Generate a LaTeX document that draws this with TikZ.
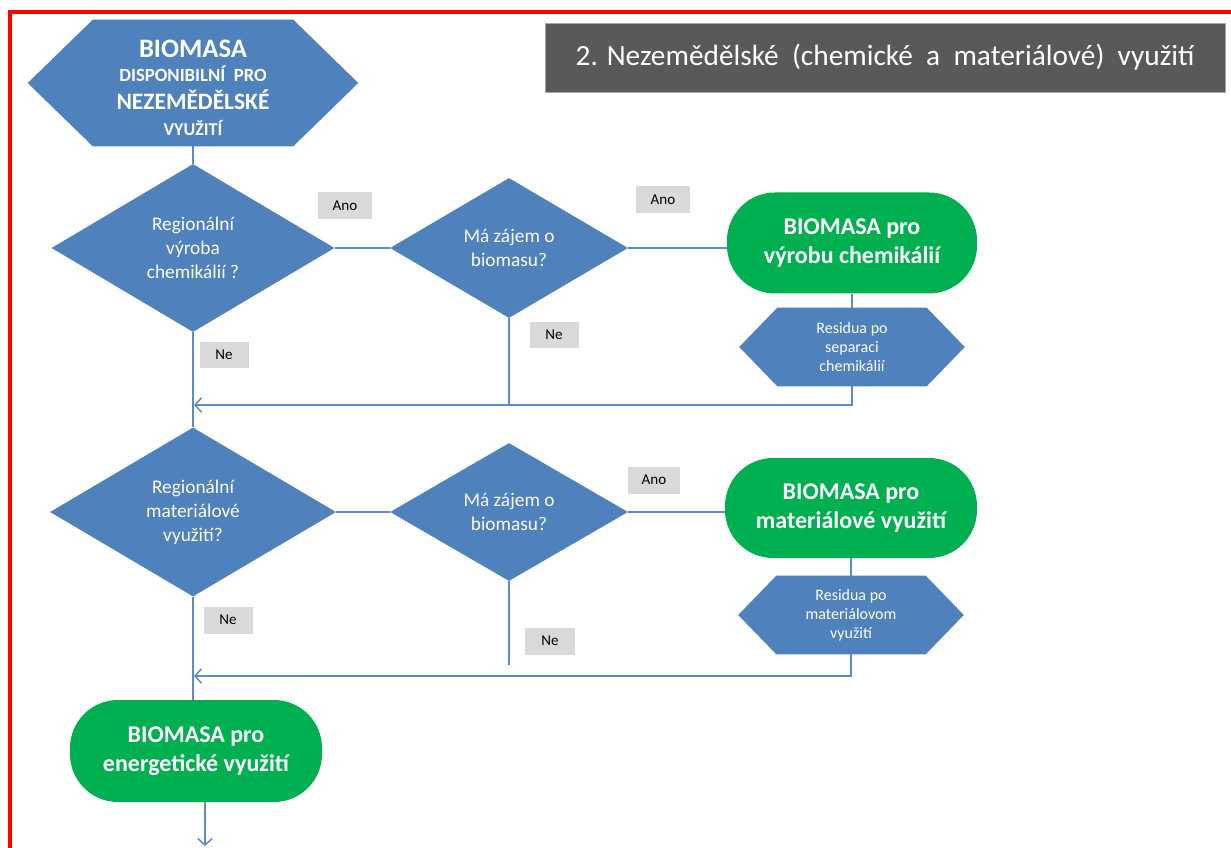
\documentclass[tikz,border=0pt]{standalone}
\usepackage{fontspec}
\setmainfont{Carlito}
\usetikzlibrary{shapes.geometric,arrows.meta,backgrounds}

\definecolor{boxblue}{HTML}{4F81BD}
\definecolor{okgreen}{HTML}{00B050}
\definecolor{flow}{HTML}{5B8BC9}
\definecolor{tag}{HTML}{D9D9D9}
\definecolor{banner}{HTML}{595959}
\definecolor{bannerrim}{HTML}{A6A6A6}
\definecolor{framered}{HTML}{FF0000}

% filled hexagon behind a named node: #1 node, #2 horizontal cut of the corners
\newcommand\hexagonfill[2]{%
  \begin{scope}[on background layer]
    \fill[boxblue] (#1.west) -- ([xshift=#2]#1.north west) -- ([xshift=-#2]#1.north east)
      -- (#1.east) -- ([xshift=-#2]#1.south east) -- ([xshift=#2]#1.south west) -- cycle;
  \end{scope}}

\tikzset{
  decision/.style={diamond, fill=boxblue, text=white, inner sep=0pt, align=center,
    font=\fontsize{14.5}{18}\selectfont},
  outcome/.style={rectangle, rounded corners=36pt, fill=okgreen, text=white, align=center,
    font=\fontsize{18}{21.75}\selectfont\bfseries},
  hexlabel/.style={rectangle, text=white, inner sep=0pt, align=center},
  answer/.style={rectangle, fill=tag, text=black, inner sep=0pt,
    font=\fontsize{11.3}{13}\selectfont},
  flowline/.style={draw=flow, line width=1.3pt},
  flowarrow/.style={flowline, -{Straight Barb[length=5pt,width=11pt,line width=1.1pt]}},
}

\begin{document}
\begin{tikzpicture}[x=0.75pt, y=-0.75pt]
\useasboundingbox (0,0) rectangle (1231,848);

% page frame
\draw[framered, line width=3pt] (9.5,870) -- (9.5,12.5) -- (1250,12.5);

% heading banner
\node[rectangle, fill=banner, draw=bannerrim, line width=0.6pt, text=white,
  minimum width=510pt, minimum height=51.75pt, inner sep=0pt,
  font=\fontsize{22}{26}\selectfont] (title) at (885,57.5)
  {2. Nezemědělské\ \ (chemické\ \ a\ \ materiálové)\ \ využití};

% start
\node[hexlabel, minimum width=247.5pt, minimum height=94.5pt,
  font=\fontsize{14}{19.5}\selectfont\bfseries] (top) at (193,83)
  {\rule{0pt}{20pt}{\fontsize{20}{19.5}\selectfont BIOMASA}\\[-1pt]
   DISPONIBILNÍ\ \ PRO\\[1pt]
   {\fontsize{17.6}{19.5}\selectfont NEZEMĚDĚLSKÉ}\\
   {\fontsize{13.5}{19.5}\selectfont VYUŽITÍ}};
\hexagonfill{top}{48.75pt}

% chemical branch
\node[decision, minimum width=212.25pt, minimum height=126pt] (q1) at (193,248)
  {Regionální\\výroba\\chemikálií ?};
\node[decision, minimum width=178.5pt, minimum height=105pt] (q2) at (509,248)
  {Má zájem o\\biomasu?};
\node[outcome, minimum width=187.5pt, minimum height=75.75pt] (g1) at (852,243)
  {BIOMASA pro\\výrobu chemikálií};
\node[hexlabel, minimum width=168.75pt, minimum height=58.5pt,
  font=\fontsize{12}{14.25}\selectfont] (r1) at (852,347)
  {Residua po\\separaci\\chemikálií};
\hexagonfill{r1}{28.5pt}

% material branch
\node[decision, minimum width=214.5pt, minimum height=126.75pt] (q3) at (193,512)
  {Regionální\\materiálové\\využití?};
\node[decision, minimum width=178.5pt, minimum height=103.5pt] (q4) at (509,512)
  {Má zájem o\\biomasu?};
\node[outcome, minimum width=189pt, minimum height=75pt] (g2) at (851,508)
  {BIOMASA pro\\materiálové využití};
\node[hexlabel, minimum width=168.75pt, minimum height=58.5pt,
  font=\fontsize{12}{14.25}\selectfont] (r2) at (851,615)
  {Residua po\\materiálovom\\využití};
\hexagonfill{r2}{28.5pt}

% energy use
\node[outcome, minimum width=189pt, minimum height=76.5pt] (g3) at (196,751)
  {BIOMASA pro\\energetické využití};

% answer tags
\node[answer, minimum width=40.5pt, minimum height=20.25pt] (a1) at (345,206) {Ano};
\node[answer, minimum width=41pt, minimum height=20.25pt] (a2) at (663,200) {Ano};
\node[answer, minimum width=36.75pt, minimum height=19.5pt] (n1) at (224,355) {Ne};
\node[answer, minimum width=36.75pt, minimum height=19.5pt] (n2) at (554,335) {Ne};
\node[answer, minimum width=39pt, minimum height=20.25pt] (a3) at (654,480) {Ano};
\node[answer, minimum width=36.75pt, minimum height=20.25pt] (n3) at (228,620) {Ne};
\node[answer, minimum width=38pt, minimum height=20.25pt] (n4) at (550,641) {Ne};

% junction points on the main column
\coordinate (j1) at (194,405);
\coordinate (j2) at (194,676);
\coordinate (q4end) at (509,665);
\coordinate (out) at (205,846);

% connectors
\draw[flowline] (top.south) -- (q1.north);
\draw[flowline] (q1.south) -- (q3.north);
\draw[flowline] (q1.east) -- (q2.west);
\draw[flowline] (q2.east) -- (q2.east -| g1.west);
\draw[flowline] (g1.south) -- (r1.north);
\draw[flowline] (q2.south) -- (q2.south |- j1);
\draw[flowarrow] (r1.south) -- (r1.south |- j1) -- (j1);

\draw[flowline] (q3.south) -- (q3.south |- g3.north);
\draw[flowline] (q3.east) -- (q4.west);
\draw[flowline] (q4.east) -- (q4.east -| g2.west);
\draw[flowline] (g2.south) -- (r2.north);
\draw[flowline] (q4.south) -- (q4end);
\draw[flowarrow] (r2.south) -- (r2.south |- j2) -- (j2);

\draw[flowarrow] (g3.south -| out) -- (out);
\end{tikzpicture}
\end{document}
